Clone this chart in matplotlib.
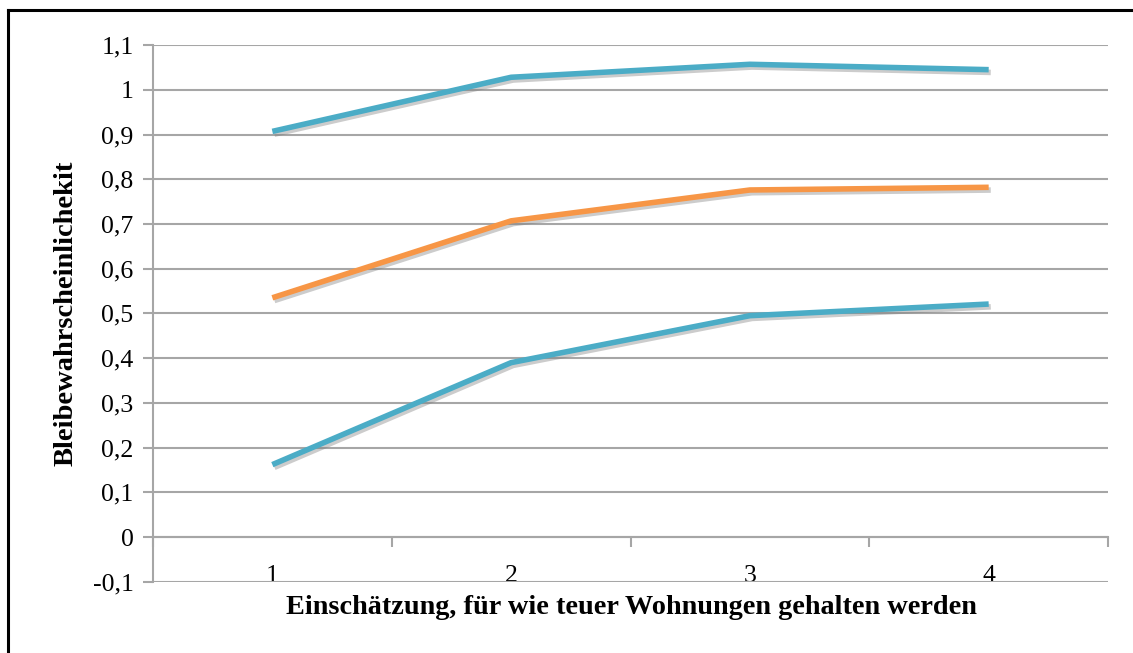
import matplotlib
matplotlib.use("Agg")
from matplotlib import pyplot as plt
from matplotlib.lines import Line2D
import matplotlib.patheffects as pe

categories = [1, 2, 3, 4]
cat_labels = ["1", "2", "3", "4"]
top_blue = [0.907, 1.028, 1.057, 1.045]
orange = [0.535, 0.707, 0.776, 0.782]
bottom_blue = [0.162, 0.390, 0.495, 0.521]
yticks = [-0.1, 0, 0.1, 0.2, 0.3, 0.4, 0.5, 0.6, 0.7, 0.8, 0.9, 1.0, 1.1]
ytick_labels = ["-0,1", "0", "0,1", "0,2", "0,3", "0,4", "0,5", "0,6",
                "0,7", "0,8", "0,9", "1", "1,1"]

BLUE = "#4BACC6"
ORANGE = "#F79646"
GRID = "#A6A6A6"

plt.rcParams['font.family'] = ['Liberation Serif', 'DejaVu Serif']

fig = plt.figure(figsize=(11.33, 6.53), dpi=100)
ax = fig.add_axes([0.135, 0.109, 0.843, 0.822])

shadow = [pe.SimpleLineShadow(offset=(1.5, -2), shadow_color="gray", alpha=0.4),
          pe.Normal()]
for vals, col in [(top_blue, BLUE), (orange, ORANGE), (bottom_blue, BLUE)]:
    ax.plot(categories, vals, color=col, lw=4, solid_capstyle="butt",
            path_effects=shadow, zorder=3)

ax.set_xlim(0.5, 4.5)
ax.set_ylim(-0.1, 1.1)
ax.set_yticks(yticks)
ax.set_yticklabels(ytick_labels, fontsize=18.5)
ax.yaxis.grid(True, color=GRID, lw=1.5)
ax.set_axisbelow(True)

for s in ["top", "right"]:
    ax.spines[s].set_visible(False)
ax.spines["left"].set_color(GRID)
ax.spines["left"].set_linewidth(1.5)
ax.spines["bottom"].set_position(("data", 0))
ax.spines["bottom"].set_color(GRID)
ax.spines["bottom"].set_linewidth(1.5)

ax.set_xticks(categories)
ax.set_xticklabels(cat_labels, fontsize=18.5)
ax.set_xticks([0.5, 1.5, 2.5, 3.5, 4.5], minor=True)
ax.tick_params(axis="x", which="major", length=0, pad=20)
ax.tick_params(axis="x", which="minor", length=7, width=1.5, color=GRID, direction="out")
ax.tick_params(axis="y", length=7, width=1.5, color=GRID, pad=7)

fig.text(0.557, 0.069, "Einschätzung, für wie teuer Wohnungen gehalten werden",
         ha="center", va="center", fontsize=20.3, fontweight="bold")
fig.text(0.058, 0.52, "Bleibewahrscheinlichekit", ha="center", va="center",
         rotation=90, fontsize=20.5, fontweight="bold")

# outer frame (top and left only visible)
fig.add_artist(Line2D([0.0068, 0.0068], [0.0, 0.984], color="black", lw=2.2,
                      transform=fig.transFigure))
fig.add_artist(Line2D([0.0068, 1.0], [0.984, 0.984], color="black", lw=2.2,
                      transform=fig.transFigure))

fig.savefig("out.png", dpi=100)
